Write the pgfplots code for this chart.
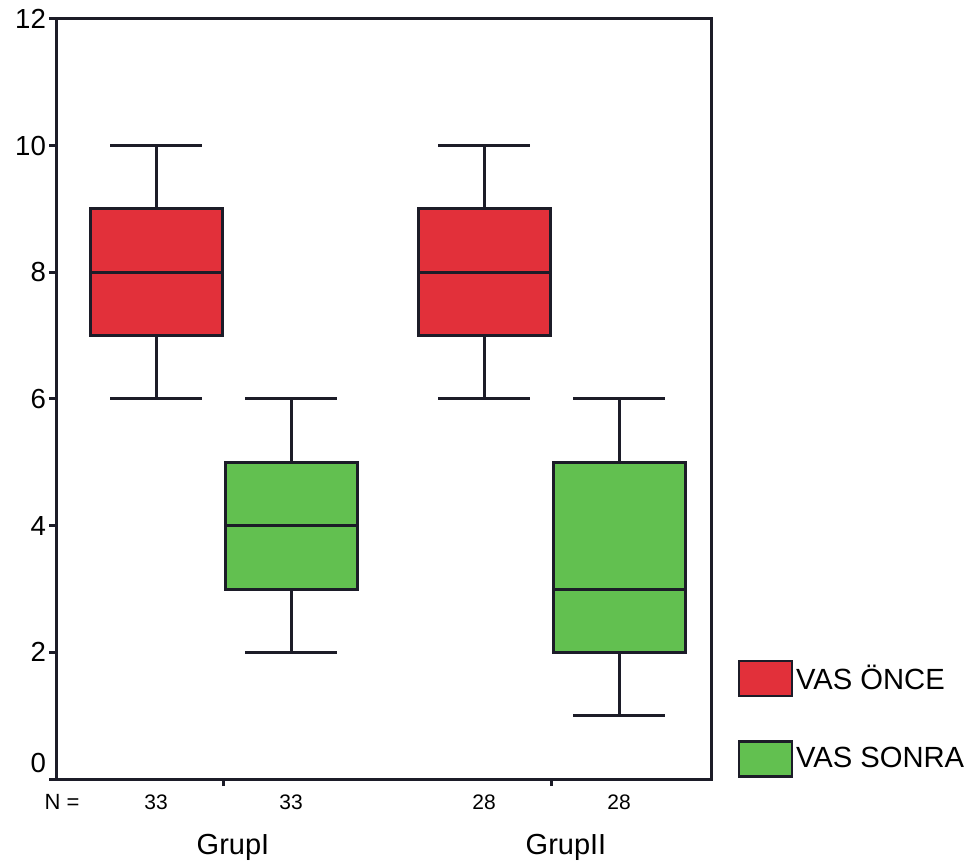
\documentclass[border=0pt]{standalone}
\usepackage{pgfplots}
\pgfplotsset{compat=1.18}
\usepgfplotslibrary{statistics}
\usepackage{fontspec}
\setmainfont{Liberation Sans}
\definecolor{vasred}{RGB}{226,48,58}
\definecolor{vasgreen}{RGB}{98,192,80}
\definecolor{linec}{RGB}{28,28,40}
\begin{document}
\begin{tikzpicture}
\useasboundingbox (-28pt,-44pt) rectangle (458.5pt,389.5pt);
\begin{axis}[
  scale only axis,
  width=327.5pt, height=380pt,
  xmin=0.56, xmax=7.11, ymin=0, ymax=12,
  boxplot/draw direction=y,
  axis line style={line width=1.5pt, color=linec},
  every tick/.style={line width=1.5pt, color=linec},
  tick align=outside,
  tick pos=left,
  major tick length=3.5pt,
  ytick={2,4,6,8,10,12},
  extra y ticks={0},
  extra y tick style={yticklabel style={yshift=8pt}},
  xtick={2.235,5.515},
  xticklabels={},
  extra x ticks={1.56,2.91,4.84,6.19},
  extra x tick labels={33,33,28,28},
  extra x tick style={major tick length=0pt, xticklabel style={font=\fontsize{10.5}{12}\selectfont, yshift=-4.5pt}},
  /pgf/number format/assume math mode=true,
  yticklabel style={font=\fontsize{13.8}{15}\selectfont, xshift=2pt},
  legend style={at={(1.04,0.157)}, anchor=north west, draw=none, fill=none, inner sep=0pt,
    row sep=21.5pt, font=\fontsize{14.6}{16}\selectfont, cells={anchor=west},
    nodes={inner sep=1.5pt}},
  clip=false,
]
\addplot[forget plot, boxplot prepared={draw position=1.56, lower whisker=6, lower quartile=7, median=8, upper quartile=9, upper whisker=10, box extend=1.32, whisker extend=0.92}, fill=vasred, draw=linec, line width=1.5pt] coordinates {};
\addplot[forget plot, boxplot prepared={draw position=2.91, lower whisker=2, lower quartile=3, median=4, upper quartile=5, upper whisker=6, box extend=1.32, whisker extend=0.92}, fill=vasgreen, draw=linec, line width=1.5pt] coordinates {};
\addplot[forget plot, boxplot prepared={draw position=4.84, lower whisker=6, lower quartile=7, median=8, upper quartile=9, upper whisker=10, box extend=1.32, whisker extend=0.92}, fill=vasred, draw=linec, line width=1.5pt] coordinates {};
\addplot[forget plot, boxplot prepared={draw position=6.19, lower whisker=1, lower quartile=2, median=3, upper quartile=5, upper whisker=6, box extend=1.32, whisker extend=0.92}, fill=vasgreen, draw=linec, line width=1.5pt] coordinates {};
\addlegendimage{legend image code/.code={\draw[fill=vasred,draw=linec,line width=1.2pt] (0pt,-8.75pt) rectangle (26.5pt,8.75pt);}}
\addlegendentry{VAS ÖNCE}
\addlegendimage{legend image code/.code={\draw[fill=vasgreen,draw=linec,line width=1.2pt] (0pt,-8.75pt) rectangle (26.5pt,8.75pt);}}
\addlegendentry{VAS SONRA}
\node[font=\fontsize{11}{12}\selectfont] at (axis cs:0.62,0) [yshift=-11.5pt] {N =};
\node[font=\fontsize{14.5}{16}\selectfont] at (axis cs:2.33,0) [yshift=-34pt] {GrupI};
\node[font=\fontsize{14.5}{16}\selectfont] at (axis cs:5.66,0) [yshift=-34pt] {GrupII};
\end{axis}
\end{tikzpicture}
\end{document}
